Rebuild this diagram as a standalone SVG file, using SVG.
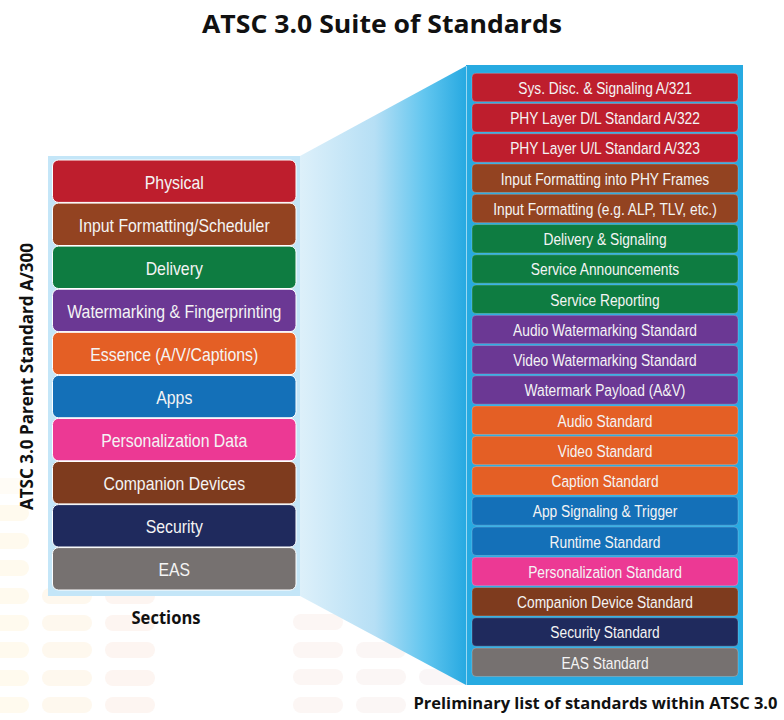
<svg xmlns="http://www.w3.org/2000/svg" width="784" height="720" viewBox="0 0 784 720">
  <style>
    .head { font-family: "Open Sans", "Noto Sans", "DejaVu Sans", sans-serif; font-weight: 700; fill: #111111; }
    .sec  { font-family: "Liberation Sans", Arial, sans-serif; font-size: 18px; fill: #F4F4F4; text-anchor: middle; }
    .std  { font-family: "Liberation Sans", Arial, sans-serif; font-size: 17px; fill: #F4F4F4; text-anchor: middle; }
    .lbox { stroke: #FFFFFF; stroke-width: 1; }
    .rbox { stroke: #FFFFFF; stroke-opacity: 0.22; stroke-width: 1; }
    .pill { stroke: none; }
  </style>
  <defs>
    <linearGradient id="zoomBeam" x1="300" y1="0" x2="466" y2="0" gradientUnits="userSpaceOnUse">
      <stop offset="0" stop-color="#DDF0FA"/>
      <stop offset="0.45" stop-color="#B6DFF5"/>
      <stop offset="0.75" stop-color="#62C6EF"/>
      <stop offset="1" stop-color="#27A9E1"/>
    </linearGradient>
  </defs>

  <rect width="784" height="720" fill="#FFFFFF"/>

  <!-- faint equalizer-style backdrop -->
  <g id="backdrop">
    <g fill="#FFFAEE" class="pill">
      <rect x="-21" y="478" width="50" height="16" rx="8" opacity="0.5"/>
      <rect x="-21" y="505" width="50" height="16" rx="8"/>
      <rect x="-21" y="533" width="50" height="16" rx="8"/>
      <rect x="-21" y="560" width="50" height="16" rx="8"/>
      <rect x="-21" y="588" width="50" height="16" rx="8"/>
      <rect x="-21" y="615" width="50" height="16" rx="8"/>
      <rect x="-21" y="642" width="50" height="16" rx="8"/>
      <rect x="-21" y="670" width="50" height="16" rx="8"/>
      <rect x="-21" y="697" width="50" height="16" rx="8"/>
    </g>
    <g fill="#FEF8EE" class="pill">
      <rect x="42" y="588" width="50" height="16" rx="8"/>
      <rect x="42" y="615" width="50" height="16" rx="8"/>
      <rect x="42" y="642" width="50" height="16" rx="8"/>
      <rect x="42" y="670" width="50" height="16" rx="8"/>
      <rect x="42" y="697" width="50" height="16" rx="8"/>
    </g>
    <g fill="#FDF5F1" class="pill">
      <rect x="105" y="588" width="50" height="16" rx="8"/>
      <rect x="105" y="615" width="50" height="16" rx="8"/>
      <rect x="105" y="642" width="50" height="16" rx="8"/>
      <rect x="105" y="670" width="50" height="16" rx="8"/>
      <rect x="105" y="697" width="50" height="16" rx="8"/>
    </g>
    <g fill="#FCF6F4" class="pill">
      <rect x="293" y="614" width="50" height="16" rx="8"/>
      <rect x="293" y="642" width="50" height="16" rx="8"/>
      <rect x="293" y="669" width="50" height="16" rx="8"/>
      <rect x="293" y="697" width="50" height="16" rx="8"/>
    </g>
    <g fill="#FBF6F5" class="pill">
      <rect x="356" y="642" width="50" height="16" rx="8"/>
      <rect x="356" y="669" width="50" height="16" rx="8"/>
      <rect x="356" y="697" width="50" height="16" rx="8"/>
    </g>
    <g fill="#FAF6F7" class="pill">
      <rect x="419" y="669" width="50" height="16" rx="8"/>
    </g>
  </g>

  <!-- title -->
  <text class="head" x="382" y="33" font-size="25" text-anchor="middle" textLength="360" lengthAdjust="spacingAndGlyphs">ATSC 3.0 Suite of Standards</text>

  <!-- vertical caption for the parent standard -->
  <text class="head" transform="translate(33 376.5) rotate(-90)" x="0" y="0" font-size="18" text-anchor="middle" textLength="267" lengthAdjust="spacingAndGlyphs">ATSC 3.0 Parent Standard A/300</text>

  <!-- expansion beam between the two stacks -->
  <g id="connectors">
    <polygon points="300,156 466,66 466,685 300,596" fill="url(#zoomBeam)"/>
  </g>

  <!-- left stack: sections of A/300 -->
  <rect x="48" y="156" width="252" height="440" fill="#C4E6F8"/>

  <g id="sec-physical">
    <rect class="lbox" x="52.5" y="160" width="243.5" height="42.4" rx="6" fill="#BE1E2D"/>
    <text class="sec" transform="translate(174.25 188.7) scale(0.88 1)">Physical</text>
  </g>
  <g id="sec-input">
    <rect class="lbox" x="52.5" y="203.1" width="243.5" height="42.4" rx="6" fill="#934321"/>
    <text class="sec" transform="translate(174.25 231.8) scale(0.88 1)">Input Formatting/Scheduler</text>
  </g>
  <g id="sec-delivery">
    <rect class="lbox" x="52.5" y="246.1" width="243.5" height="42.4" rx="6" fill="#0E7C41"/>
    <text class="sec" transform="translate(174.25 274.8) scale(0.88 1)">Delivery</text>
  </g>
  <g id="sec-watermark">
    <rect class="lbox" x="52.5" y="289.2" width="243.5" height="42.4" rx="6" fill="#6B3894"/>
    <text class="sec" transform="translate(174.25 317.9) scale(0.88 1)">Watermarking &amp; Fingerprinting</text>
  </g>
  <g id="sec-essence">
    <rect class="lbox" x="52.5" y="332.3" width="243.5" height="42.4" rx="6" fill="#E45F25"/>
    <text class="sec" transform="translate(174.25 361) scale(0.88 1)">Essence (A/V/Captions)</text>
  </g>
  <g id="sec-apps">
    <rect class="lbox" x="52.5" y="375.4" width="243.5" height="42.4" rx="6" fill="#1470B8"/>
    <text class="sec" transform="translate(174.25 404.1) scale(0.88 1)">Apps</text>
  </g>
  <g id="sec-personalization">
    <rect class="lbox" x="52.5" y="418.4" width="243.5" height="42.4" rx="6" fill="#EC3994"/>
    <text class="sec" transform="translate(174.25 447.1) scale(0.88 1)">Personalization Data</text>
  </g>
  <g id="sec-companion">
    <rect class="lbox" x="52.5" y="461.5" width="243.5" height="42.4" rx="6" fill="#7E3B1E"/>
    <text class="sec" transform="translate(174.25 490.2) scale(0.88 1)">Companion Devices</text>
  </g>
  <g id="sec-security">
    <rect class="lbox" x="52.5" y="504.6" width="243.5" height="42.4" rx="6" fill="#1F2A5D"/>
    <text class="sec" transform="translate(174.25 533.3) scale(0.88 1)">Security</text>
  </g>
  <g id="sec-eas">
    <rect class="lbox" x="52.5" y="547.6" width="243.5" height="42.4" rx="6" fill="#767170"/>
    <text class="sec" transform="translate(174.25 576.3) scale(0.88 1)">EAS</text>
  </g>

  <text class="head" x="166" y="624" font-size="18" text-anchor="middle" textLength="69" lengthAdjust="spacingAndGlyphs">Sections</text>

  <!-- right stack: individual standards -->
  <rect x="466" y="65" width="277" height="620" fill="#27AAE1"/>
  <line x1="466.5" y1="66" x2="466.5" y2="685" stroke="#9AD8F3" stroke-width="1"/>

  <g id="std-a321">
    <rect class="rbox" x="472" y="73.3" width="266" height="28.4" rx="4" fill="#BE1E2D"/>
    <text class="std" transform="translate(605 93.8) scale(0.81 1)">Sys. Disc. &amp; Signaling A/321</text>
  </g>
  <g id="std-a322">
    <rect class="rbox" x="472" y="103.55" width="266" height="28.4" rx="4" fill="#BE1E2D"/>
    <text class="std" transform="translate(605 124.05) scale(0.81 1)">PHY Layer D/L Standard A/322</text>
  </g>
  <g id="std-a323">
    <rect class="rbox" x="472" y="133.8" width="266" height="28.4" rx="4" fill="#BE1E2D"/>
    <text class="std" transform="translate(605 154.3) scale(0.81 1)">PHY Layer U/L Standard A/323</text>
  </g>
  <g id="std-phy-frames">
    <rect class="rbox" x="472" y="164.05" width="266" height="28.4" rx="4" fill="#934321"/>
    <text class="std" transform="translate(605 184.55) scale(0.81 1)">Input Formatting into PHY Frames</text>
  </g>
  <g id="std-alp">
    <rect class="rbox" x="472" y="194.3" width="266" height="28.4" rx="4" fill="#934321"/>
    <text class="std" transform="translate(605 214.8) scale(0.81 1)">Input Formatting (e.g. ALP, TLV, etc.)</text>
  </g>
  <g id="std-delivery">
    <rect class="rbox" x="472" y="224.55" width="266" height="28.4" rx="4" fill="#0E7C41"/>
    <text class="std" transform="translate(605 245.05) scale(0.81 1)">Delivery &amp; Signaling</text>
  </g>
  <g id="std-announcements">
    <rect class="rbox" x="472" y="254.8" width="266" height="28.4" rx="4" fill="#0E7C41"/>
    <text class="std" transform="translate(605 275.3) scale(0.81 1)">Service Announcements</text>
  </g>
  <g id="std-reporting">
    <rect class="rbox" x="472" y="285.05" width="266" height="28.4" rx="4" fill="#0E7C41"/>
    <text class="std" transform="translate(605 305.55) scale(0.81 1)">Service Reporting</text>
  </g>
  <g id="std-audio-wm">
    <rect class="rbox" x="472" y="315.3" width="266" height="28.4" rx="4" fill="#6B3894"/>
    <text class="std" transform="translate(605 335.8) scale(0.81 1)">Audio Watermarking Standard</text>
  </g>
  <g id="std-video-wm">
    <rect class="rbox" x="472" y="345.55" width="266" height="28.4" rx="4" fill="#6B3894"/>
    <text class="std" transform="translate(605 366.05) scale(0.81 1)">Video Watermarking Standard</text>
  </g>
  <g id="std-wm-payload">
    <rect class="rbox" x="472" y="375.8" width="266" height="28.4" rx="4" fill="#6B3894"/>
    <text class="std" transform="translate(605 396.3) scale(0.81 1)">Watermark Payload (A&amp;V)</text>
  </g>
  <g id="std-audio">
    <rect class="rbox" x="472" y="406.05" width="266" height="28.4" rx="4" fill="#E45F25"/>
    <text class="std" transform="translate(605 426.55) scale(0.81 1)">Audio Standard</text>
  </g>
  <g id="std-video">
    <rect class="rbox" x="472" y="436.3" width="266" height="28.4" rx="4" fill="#E45F25"/>
    <text class="std" transform="translate(605 456.8) scale(0.81 1)">Video Standard</text>
  </g>
  <g id="std-caption">
    <rect class="rbox" x="472" y="466.55" width="266" height="28.4" rx="4" fill="#E45F25"/>
    <text class="std" transform="translate(605 487.05) scale(0.81 1)">Caption Standard</text>
  </g>
  <g id="std-app-signaling">
    <rect class="rbox" x="472" y="496.8" width="266" height="28.4" rx="4" fill="#1470B8"/>
    <text class="std" transform="translate(605 517.3) scale(0.81 1)">App Signaling &amp; Trigger</text>
  </g>
  <g id="std-runtime">
    <rect class="rbox" x="472" y="527.05" width="266" height="28.4" rx="4" fill="#1470B8"/>
    <text class="std" transform="translate(605 547.55) scale(0.81 1)">Runtime Standard</text>
  </g>
  <g id="std-personalization">
    <rect class="rbox" x="472" y="557.3" width="266" height="28.4" rx="4" fill="#EC3994"/>
    <text class="std" transform="translate(605 577.8) scale(0.81 1)">Personalization Standard</text>
  </g>
  <g id="std-companion">
    <rect class="rbox" x="472" y="587.55" width="266" height="28.4" rx="4" fill="#7E3B1E"/>
    <text class="std" transform="translate(605 608.05) scale(0.81 1)">Companion Device Standard</text>
  </g>
  <g id="std-security">
    <rect class="rbox" x="472" y="617.8" width="266" height="28.4" rx="4" fill="#1F2A5D"/>
    <text class="std" transform="translate(605 638.3) scale(0.81 1)">Security Standard</text>
  </g>
  <g id="std-eas">
    <rect class="rbox" x="472" y="648.05" width="266" height="28.4" rx="4" fill="#767170"/>
    <text class="std" transform="translate(605 668.55) scale(0.81 1)">EAS Standard</text>
  </g>

  <text class="head" x="595.5" y="709" font-size="16.5" text-anchor="middle" textLength="364" lengthAdjust="spacingAndGlyphs">Preliminary list of standards within ATSC 3.0</text>
</svg>
